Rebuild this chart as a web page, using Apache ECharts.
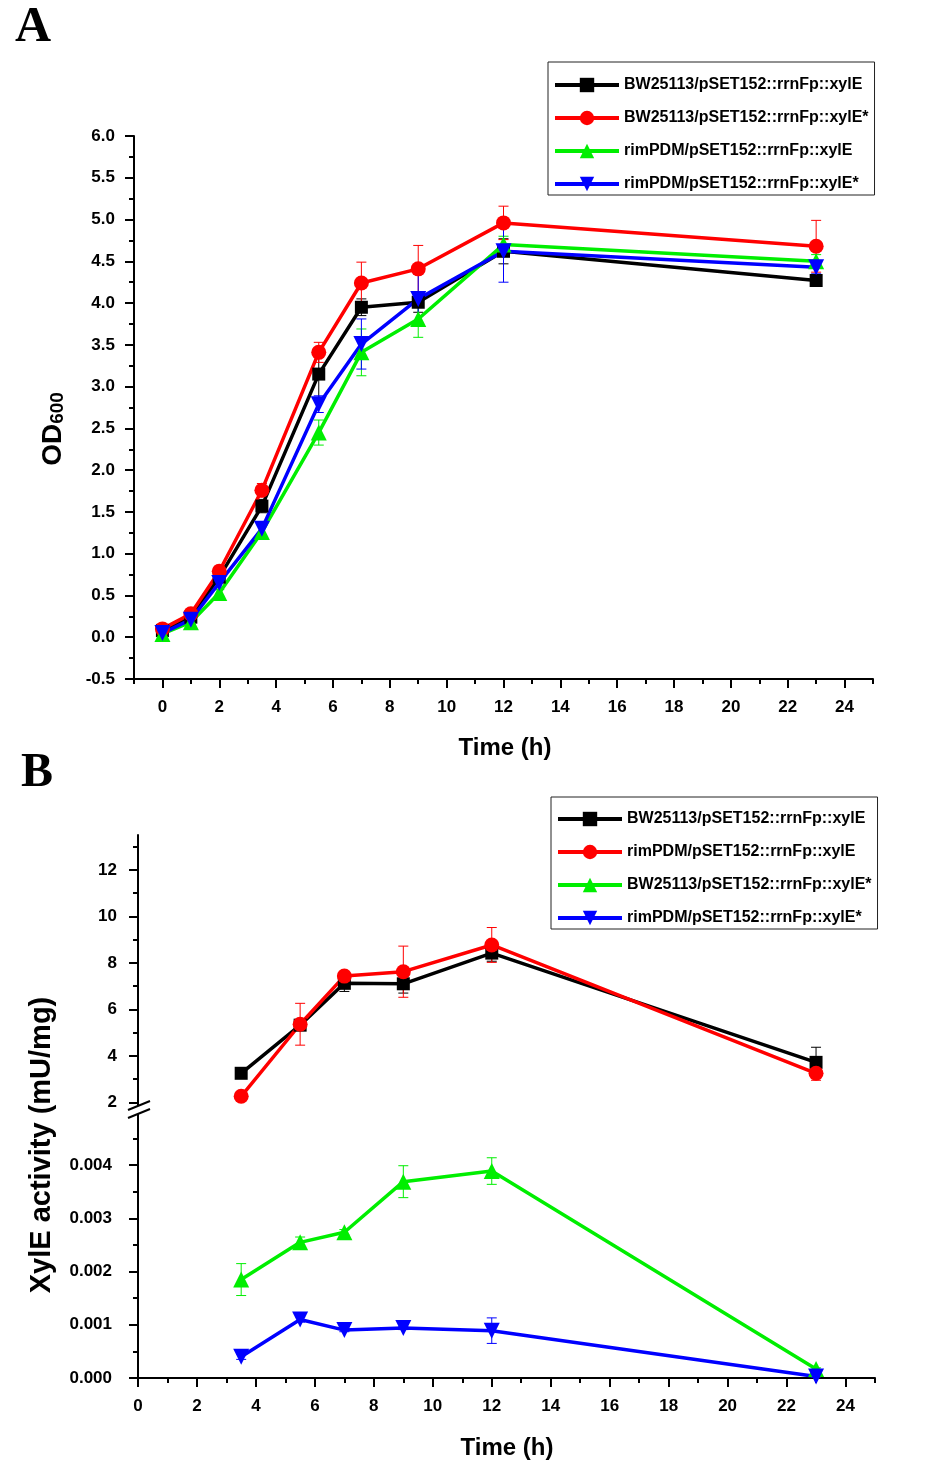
<!DOCTYPE html>
<html>
<head>
<meta charset="utf-8">
<script src="https://cdn.jsdelivr.net/npm/echarts@6/dist/echarts.min.js"></script>
<style>html,body{margin:0;padding:0;background:#fff}#c{width:943px;height:1468px}</style>
</head>
<body>
<div id="c"></div>
<script>
// ---------- Panel A data (OD600) ----------
const timeA = [0, 1, 2, 3.5, 5.5, 7, 9, 12, 23];
const namesA = ['BW25113/pSET152::rrnFp::xylE', 'BW25113/pSET152::rrnFp::xylE*', 'rimPDM/pSET152::rrnFp::xylE', 'rimPDM/pSET152::rrnFp::xylE*'];
const odBW      = [0.08, 0.24, 0.72, 1.57, 3.15, 3.95, 4.01, 4.62, 4.27];
const odBWErr   = [0.02, 0.03, 0.05, 0.08, 0.30, 0.10, 0.12, 0.15, 0.05];
const odBWs     = [0.10, 0.28, 0.79, 1.76, 3.41, 4.24, 4.41, 4.96, 4.68];
const odBWsErr  = [0.02, 0.03, 0.06, 0.08, 0.12, 0.25, 0.28, 0.20, 0.31];
const odRim     = [0.04, 0.18, 0.53, 1.26, 2.45, 3.41, 3.81, 4.70, 4.50];
const odRimErr  = [0.02, 0.03, 0.04, 0.08, 0.15, 0.28, 0.22, 0.10, 0.08];
const odRims    = [0.05, 0.21, 0.65, 1.30, 2.79, 3.51, 4.05, 4.62, 4.43];
const odRimsErr = [0.02, 0.03, 0.05, 0.08, 0.10, 0.30, 0.30, 0.37, 0.08];
const xTicksA = [0, 2, 4, 6, 8, 10, 12, 14, 16, 18, 20, 22, 24];
const xMinorA = [-1, 1, 3, 5, 7, 9, 11, 13, 15, 17, 19, 21, 23, 25];
const yTicksA = [-0.5, 0, 0.5, 1, 1.5, 2, 2.5, 3, 3.5, 4, 4.5, 5, 5.5, 6];
const yMinorA = [-0.25, 0.25, 0.75, 1.25, 1.75, 2.25, 2.75, 3.25, 3.75, 4.25, 4.75, 5.25, 5.75];

// ---------- Panel B data (XylE activity) ----------
const timeB = [3.5, 5.5, 7, 9, 12, 23];
const namesB = ['BW25113/pSET152::rrnFp::xylE', 'rimPDM/pSET152::rrnFp::xylE', 'BW25113/pSET152::rrnFp::xylE*', 'rimPDM/pSET152::rrnFp::xylE*'];
const actBW      = [3.25, 5.32, 7.12, 7.10, 8.42, 3.72];
const actBWErr   = [0.10, 0.20, 0.35, 0.40, 0.35, 0.65];
const actRim     = [2.26, 5.36, 7.43, 7.62, 8.77, 3.25];
const actRimErr  = [0.05, 0.90, 0.15, 1.10, 0.75, 0.30];
const actBWs     = [0.00185, 0.00255, 0.00274, 0.00369, 0.00389, 0.00017];
const actBWsErr  = [0.00030, 0.00010, 0.00005, 0.00030, 0.00025, 0.00002];
const actRims    = [0.00040, 0.00110, 0.00090, 0.00094, 0.00089, 0.00003];
const actRimsErr = [0.00005, 0.00005, 0.00003, 0.00003, 0.00024, 0.00001];
const xTicksB = [0, 2, 4, 6, 8, 10, 12, 14, 16, 18, 20, 22, 24];
const xMinorB = [1, 3, 5, 7, 9, 11, 13, 15, 17, 19, 21, 23, 25];
const yTicksBUp = [2, 4, 6, 8, 10, 12];
const yMinorBUp = [3, 5, 7, 9, 11, 13];
const yTicksBLow = [0, 0.001, 0.002, 0.003, 0.004];
const yMinorBLow = [0.0005, 0.0015, 0.0025, 0.0035, 0.0045];

const FONT = 'Liberation Sans';
const colors = ['#000000', '#ff0000', '#00ee00', '#0000ff'];
const symbols = ['rect', 'circle', 'triangle', 'triangle'];
const symSizes = [13, 15, 16, 16];
const symRot = [0, 0, 0, 180];

function zip(xs, ys) { return xs.map((x, i) => [x, ys[i]]); }
function zip3(xs, ys, es) { return xs.map((x, i) => [x, ys[i], es[i]]); }

function errSeries(data, color, xi, yi) {
  return {
    type: 'custom', xAxisIndex: xi, yAxisIndex: yi, data: data, z: 3, silent: true,
    renderItem: function (params, api) {
      const x = api.value(0), y = api.value(1), e = api.value(2);
      const t = api.coord([x, y + e]), b = api.coord([x, y - e]);
      const w = 5;
      const st = { stroke: color, lineWidth: 1 };
      return { type: 'group', children: [
        { type: 'line', shape: { x1: t[0], y1: t[1], x2: b[0], y2: b[1] }, style: st },
        { type: 'line', shape: { x1: t[0] - w, y1: t[1], x2: t[0] + w, y2: t[1] }, style: st },
        { type: 'line', shape: { x1: b[0] - w, y1: b[1], x2: b[0] + w, y2: b[1] }, style: st }
      ] };
    }
  };
}
function lineSeries(name, data, k, xi, yi) {
  return {
    name: name, type: 'line', xAxisIndex: xi, yAxisIndex: yi, data: data, z: 4,
    symbol: symbols[k], symbolSize: symSizes[k], symbolRotate: symRot[k],
    lineStyle: { color: colors[k], width: 3.5 }, itemStyle: { color: colors[k] },
    emphasis: { disabled: true }, animation: false, clip: false
  };
}

const axisLineStyle = { color: '#000', width: 2 };
const labelStyle = { color: '#000', fontFamily: FONT, fontWeight: 'bold', fontSize: 17 };

function mainX(grid, min, max, ticks) {
  return {
    type: 'value', gridIndex: grid, min: min, max: max, position: 'bottom',
    axisLine: { show: true, lineStyle: axisLineStyle, onZero: false },
    axisTick: { show: true, length: 9, lineStyle: axisLineStyle, customValues: ticks },
    axisLabel: Object.assign({ show: true, margin: 20, customValues: ticks }, labelStyle),
    splitLine: { show: false }
  };
}
function minorX(grid, min, max, ticks) {
  return {
    type: 'value', gridIndex: grid, min: min, max: max, position: 'bottom',
    axisLine: { show: false, onZero: false },
    axisTick: { show: true, length: 5, lineStyle: axisLineStyle, customValues: ticks },
    axisLabel: { show: false }, splitLine: { show: false }
  };
}
function mainY(grid, min, max, ticks, dec, margin) {
  return {
    type: 'value', gridIndex: grid, min: min, max: max, position: 'left',
    axisLine: { show: true, lineStyle: axisLineStyle, onZero: false },
    axisTick: { show: true, length: 9, lineStyle: axisLineStyle, customValues: ticks },
    axisLabel: Object.assign({ show: true, margin: margin, customValues: ticks,
      formatter: v => Number(v).toFixed(dec) }, labelStyle),
    splitLine: { show: false }
  };
}
function minorY(grid, min, max, ticks) {
  return {
    type: 'value', gridIndex: grid, min: min, max: max, position: 'left',
    axisLine: { show: false, onZero: false },
    axisTick: { show: true, length: 5, lineStyle: axisLineStyle, customValues: ticks },
    axisLabel: { show: false }, splitLine: { show: false }
  };
}

const seriesA = [odBW, odBWs, odRim, odRims];
const errA = [odBWErr, odBWsErr, odRimErr, odRimsErr];
const seriesB = [actBW, actRim, actBWs, actRims];
const errB = [actBWErr, actRimErr, actBWsErr, actRimsErr];

const series = [];
seriesA.forEach((d, k) => {
  series.push(errSeries(zip3(timeA, d, errA[k]), colors[k], 0, 0));
  series.push(lineSeries('A|' + namesA[k], zip(timeA, d), k, 0, 0));
});
seriesB.forEach((d, k) => {
  const up = k < 2;
  const xi = up ? 2 : 3, yi = up ? 2 : 4;
  series.push(errSeries(zip3(timeB, d, errB[k]), colors[k], xi, yi));
  series.push(lineSeries('B|' + namesB[k], zip(timeB, d), k, xi, yi));
});

const legendText = { color: '#000', fontFamily: FONT, fontWeight: 'bold', fontSize: 16 };
function legendCfg(names, prefix, left, top, pad) {
  return {
    data: names.map(n => prefix + n), formatter: n => n.slice(2),
    orient: 'vertical', left: left, top: top, itemWidth: 64, itemHeight: 18, itemGap: 17,
    padding: pad, borderColor: '#222', borderWidth: 1, textStyle: legendText,
    lineStyle: { width: 4 }, selectedMode: false
  };
}

const option = {
  animation: false,
  backgroundColor: '#fff',
  grid: [
    { left: 134, width: 739, top: 136, height: 543 },
    { left: 138, width: 737, top: 835, height: 272 },
    { left: 138, width: 737, top: 1112, height: 266 }
  ],
  xAxis: [
    mainX(0, -1, 25, xTicksA),
    minorX(0, -1, 25, xMinorA),
    { type: 'value', gridIndex: 1, min: 0, max: 25, show: false },
    mainX(2, 0, 25, xTicksB),
    minorX(2, 0, 25, xMinorB)
  ],
  yAxis: [
    mainY(0, -0.5, 6.0, yTicksA, 1, 19),
    minorY(0, -0.5, 6.0, yMinorA),
    mainY(1, 1.8, 13.5, yTicksBUp, 0, 21),
    minorY(1, 1.8, 13.5, yMinorBUp),
    mainY(2, 0, 0.005, yTicksBLow, 3, 26),
    minorY(2, 0, 0.005, yMinorBLow)
  ],
  legend: [
    legendCfg(namesA, 'A|', 548, 62, [15, 6, 3, 5]),
    legendCfg(namesB, 'B|', 551, 797, [14, 6, 3, 5])
  ],
  graphic: [
    { type: 'text', left: 15, top: 3, style: { text: 'A', font: 'bold 50px "Liberation Serif"', fill: '#000' } },
    { type: 'text', left: 21, top: 750, style: { text: 'B', font: 'bold 48px "Liberation Serif"', fill: '#000' } },
    { type: 'text', x: 505, y: 748, style: { text: 'Time (h)', font: 'bold 24px "Liberation Sans"', fill: '#000', align: 'center', verticalAlign: 'middle' } },
    { type: 'text', x: 507, y: 1448, style: { text: 'Time (h)', font: 'bold 24px "Liberation Sans"', fill: '#000', align: 'center', verticalAlign: 'middle' } },
    { type: 'text', x: 53, y: 429, rotation: Math.PI / 2,
      style: { text: '{a|OD}{b|600}', align: 'center', verticalAlign: 'middle', fill: '#000',
        rich: { a: { font: 'bold 28px "Liberation Sans"', fill: '#000' },
                b: { font: 'bold 19px "Liberation Sans"', fill: '#000', verticalAlign: 'bottom', padding: [10, 0, 0, 0] } } } },
    { type: 'text', x: 42, y: 1145, rotation: Math.PI / 2,
      style: { text: 'XylE activity (mU/mg)', font: 'bold 29px "Liberation Sans"', fill: '#000', align: 'center', verticalAlign: 'middle' } },
    // axis break marks
    { type: 'polygon', z: 100, shape: { points: [[128, 1110], [150, 1101], [150, 1109], [128, 1118]] }, style: { fill: '#fff' } },
    { type: 'line', z: 101, shape: { x1: 128, y1: 1110, x2: 150, y2: 1101 }, style: { stroke: '#000', lineWidth: 2 } },
    { type: 'line', z: 101, shape: { x1: 128, y1: 1118, x2: 150, y2: 1109 }, style: { stroke: '#000', lineWidth: 2 } }
  ],
  series: series
};

const chart = echarts.init(document.getElementById('c'), null, { renderer: 'canvas' });
chart.setOption(option);
</script>
</body>
</html>
